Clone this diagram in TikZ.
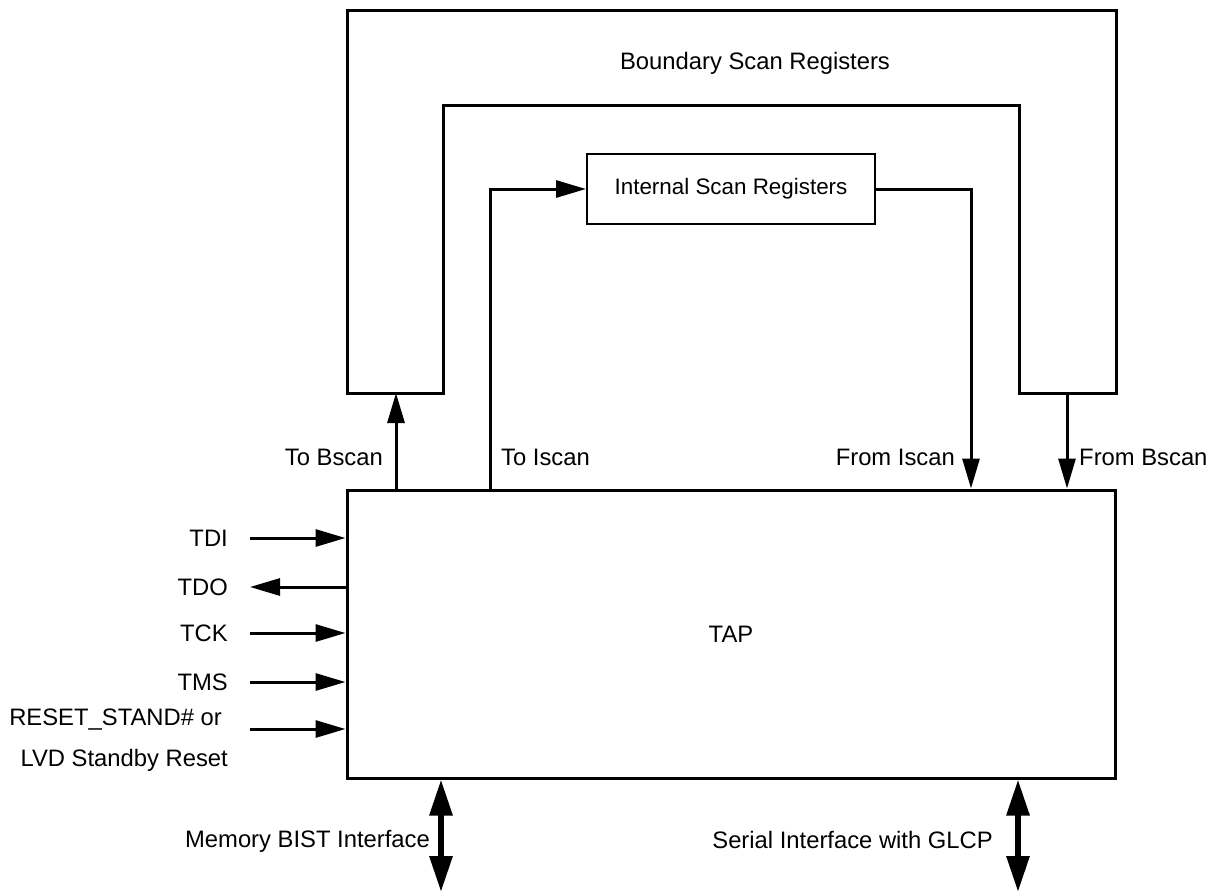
\documentclass[tikz,border=0pt]{standalone}
\usepackage{fontspec}
\setmainfont{Liberation Sans}
\usetikzlibrary{arrows.meta}

\begin{document}
\begin{tikzpicture}[x=1pt,y=-1pt,>={Triangle[length=30pt,width=17pt]},
    font=\fontsize{23.8}{28}\selectfont]
  \tikzstyle{blk}=[draw,line width=3pt,inner sep=0pt]
  \tikzstyle{sig}=[->,line width=3pt]
  \tikzstyle{bus}=[{Triangle[length=36pt,width=22pt]}-{Triangle[length=36pt,width=22pt]},
    line width=6pt]
  \tikzstyle{lbl}=[inner sep=0pt]
  \useasboundingbox (0,0) rectangle (1211,892);
  \draw[line width=3pt,line join=miter] (347,10) -- (1116,10) -- (1116,393) -- (1019,393)
    -- (1019,105) -- (443,105) -- (443,393) -- (347,393) -- cycle;
  \node[lbl] (bsr) at (755,63) {Boundary Scan Registers};
  \coordinate (bs-in) at (396,393);
  \coordinate (bs-out) at (1067,393);
  \node[blk,line width=2pt,minimum width=288pt,minimum height=70pt,
    font=\fontsize{22.4}{27}\selectfont] (isr) at (731,189) {Internal Scan Registers};
  \node[blk,minimum width=768pt,minimum height=288pt] (tap) at (731,634) {TAP};
  \coordinate (is-up) at (490,189);
  \coordinate (is-dn) at (971,189);
  \draw[sig] (tap.north -| bs-in) -- (bs-in);
  \draw[sig] (bs-out) -- (tap.north -| bs-out);
  \draw[sig] (tap.north -| is-up) |- (isr.west);
  \draw[sig] (isr.east) -| (tap.north -| is-dn);
  \node[lbl,anchor=east] (tobs) at (383,457) {To Bscan};
  \node[lbl,anchor=west] (tois) at (501,457) {To Iscan};
  \node[lbl,anchor=east] (fromis) at (955,457) {From Iscan};
  \node[lbl,anchor=west] (frombs) at (1079,457) {From Bscan};
  \foreach \pin/\y in {TDI/538,TCK/633,TMS/682}{
    \coordinate (\pin-end) at (250,\y);
    \node[lbl,anchor=east] (\pin) at (228,\y) {\pin};
    \draw[sig] (\pin-end) -- (tap.west |- \pin-end);
  }
  \coordinate (TDO-end) at (250,587);
  \node[lbl,anchor=east] (TDO) at (228,587) {TDO};
  \draw[sig] (tap.west |- TDO-end) -- (TDO-end);
  \coordinate (RST-end) at (250,729);
  \node[lbl,anchor=north east,align=right,font=\fontsize{23.8}{41}\selectfont] (RST)
    at (228,709) {RESET\_STAND\# or\hspace*{6pt}\\LVD Standby Reset};
  \draw[sig] (RST-end) -- (tap.west |- RST-end);
  \coordinate (mem-end) at (441,892);
  \coordinate (ser-end) at (1018,892);
  \draw[bus] (tap.south -| mem-end) -- (mem-end);
  \draw[bus] (tap.south -| ser-end) -- (ser-end);
  \node[lbl,anchor=east] (mem) at (430,841) {Memory BIST Interface};
  \node[lbl,anchor=east] (ser) at (993,840) {Serial Interface with GLCP};
\end{tikzpicture}
\end{document}
